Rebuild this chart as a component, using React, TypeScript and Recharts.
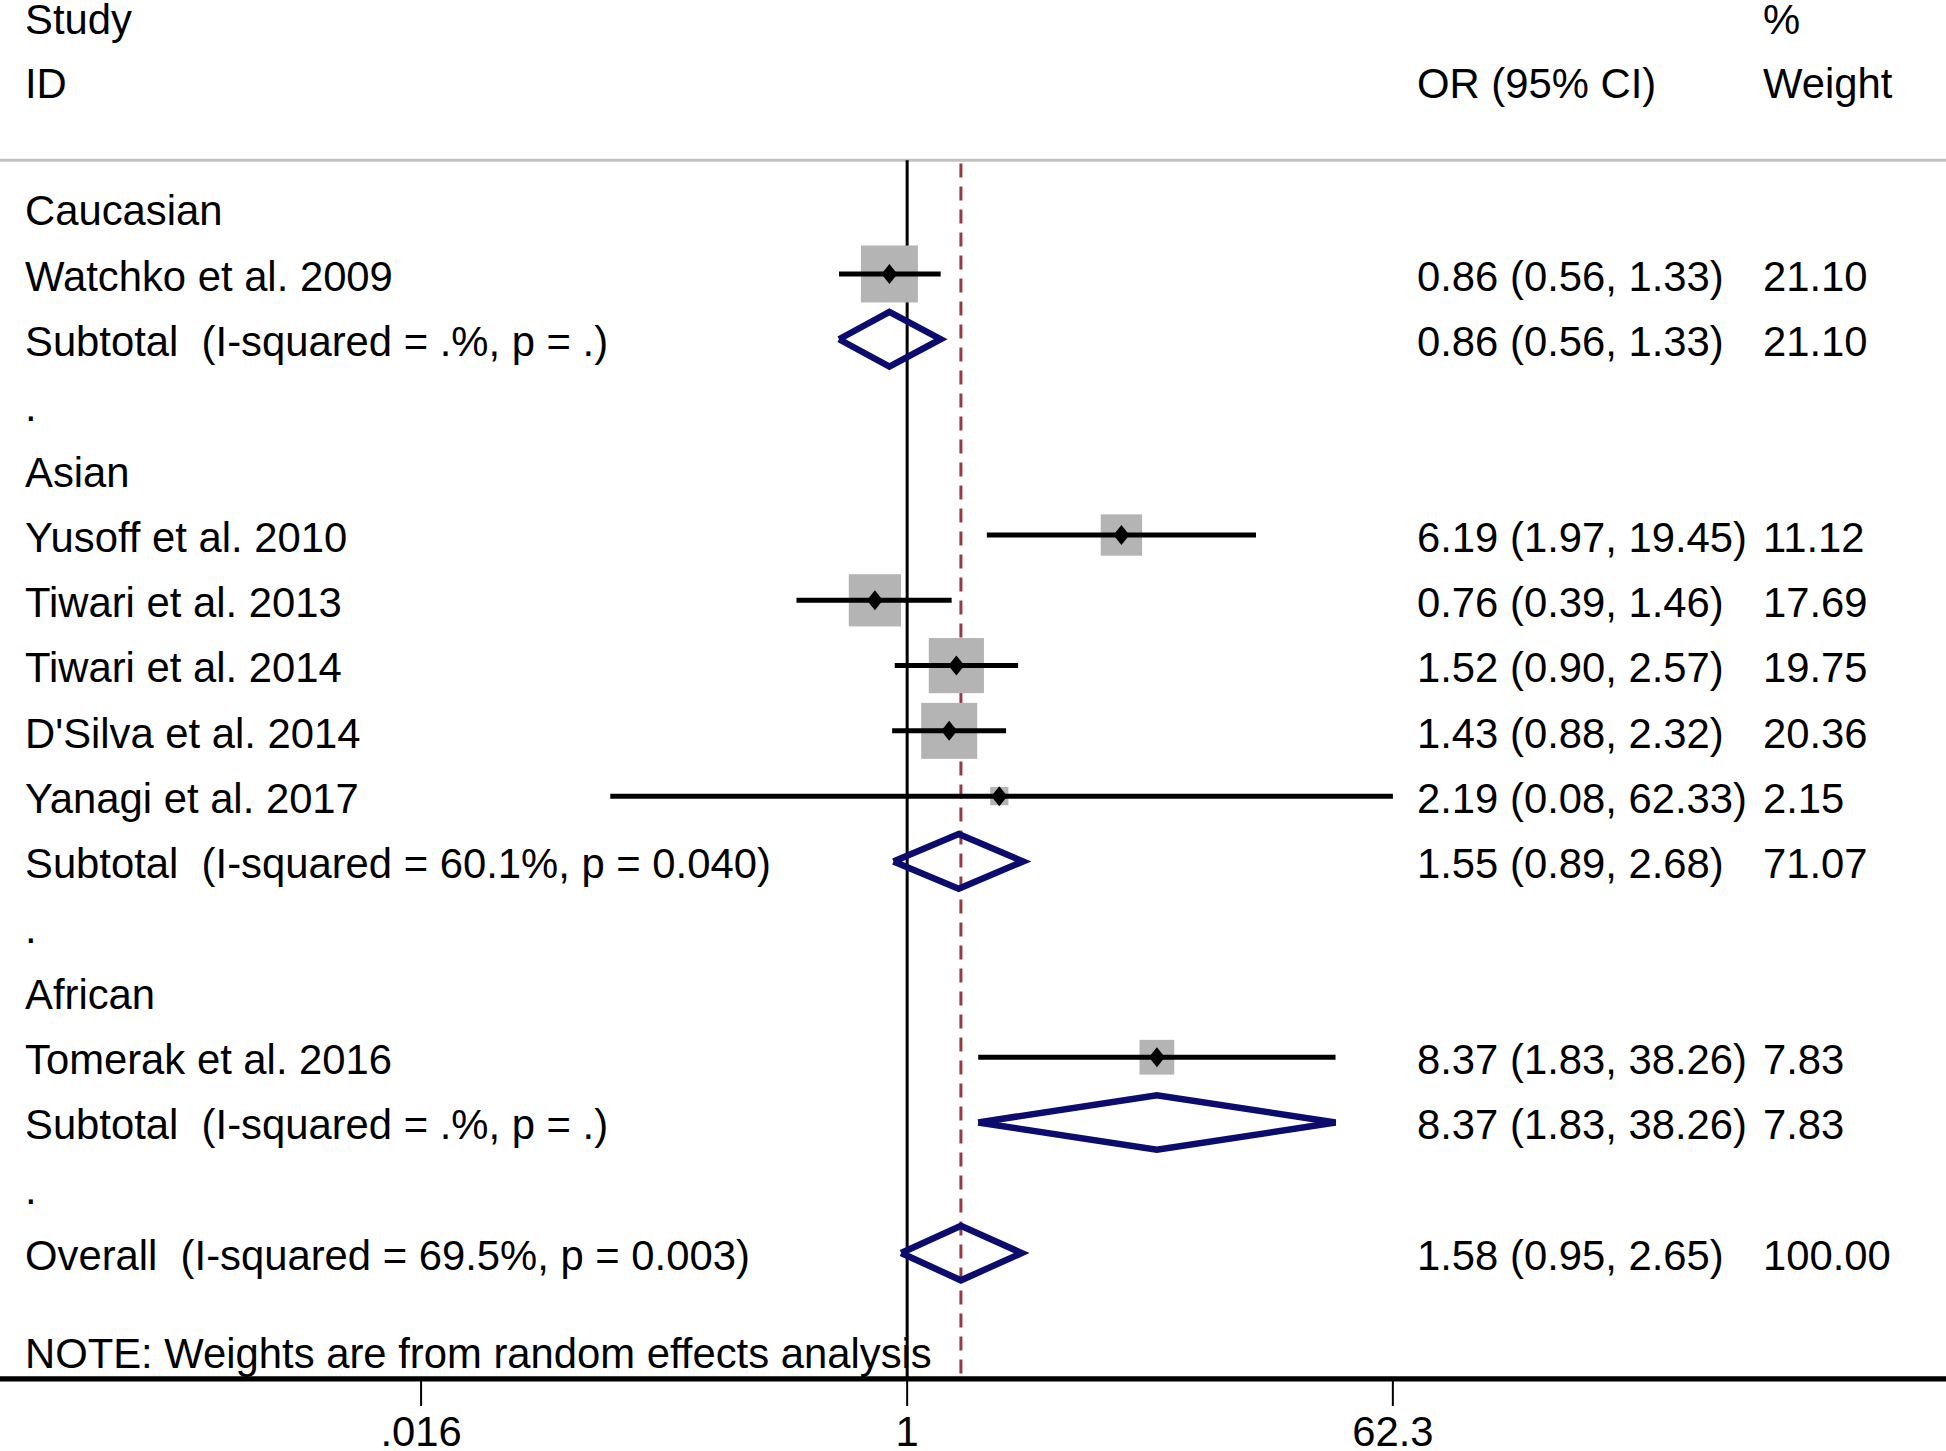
import React from "react";
import { ComposedChart, Scatter, XAxis, YAxis, ReferenceLine } from "recharts";

// individual studies
const studyNames = [
    "Watchko et al. 2009",
    "Yusoff et al. 2010",
    "Tiwari et al. 2013",
    "Tiwari et al. 2014",
    "D'Silva et al. 2014",
    "Yanagi et al. 2017",
    "Tomerak et al. 2016",
];
const studyOR = [0.86, 6.19, 0.76, 1.52, 1.43, 2.19, 8.37];
const studyLo = [0.56, 1.97, 0.39, 0.9, 0.88, 0.08, 1.83];
const studyHi = [1.33, 19.45, 1.46, 2.57, 2.32, 62.33, 38.26];
const studyWeight = [21.1, 11.12, 17.69, 19.75, 20.36, 2.15, 7.83];
const studyRows = [1, 5, 6, 7, 8, 9, 13];

// subtotals + overall
const poolNames = [
    "Subtotal  (I-squared = .%, p = .)",
    "Subtotal  (I-squared = 60.1%, p = 0.040)",
    "Subtotal  (I-squared = .%, p = .)",
    "Overall  (I-squared = 69.5%, p = 0.003)",
];
const poolOR = [0.86, 1.55, 8.37, 1.58];
const poolLo = [0.56, 0.89, 1.83, 0.95];
const poolHi = [1.33, 2.68, 38.26, 2.65];
const poolWeight = [21.1, 71.07, 7.83, 100.0];
const poolRows = [2, 10, 14, 16];

const groupNames = ["Caucasian", "Asian", "African"];
const groupRows = [0, 4, 12];
const blankRows = [3, 11, 15];

const xTicks = [0.016, 1, 62.3];
const xTickLabels = [".016", "1", "62.3"];

const noteText = "NOTE: Weights are from random effects analysis";

const FONT = '"Liberation Sans", Arial, Helvetica, sans-serif';
const FS = 41.8;
const W = 1946;
const H = 1451;
const X_MIN = 0.000445;
const X_MAX = 6890;
const Y_TOP = -3.1975;
const Y_AXIS = 17.93;
const RULE_ROW = -0.743;
const HALF_H = 0.418;

const fmt = (v: number) => v.toFixed(2);

type TextRow = { row: number; label?: string; ci?: string; wt?: string };

const textRows: TextRow[] = [
    { row: -2.93, label: "Study", wt: "%" },
    { row: -1.95, label: "ID", ci: "OR (95% CI)", wt: "Weight" },
    ...groupNames.map((g, i) => ({ row: groupRows[i], label: g })),
    ...blankRows.map((r) => ({ row: r, label: "." })),
    ...studyNames.map((n, i) => ({
        row: studyRows[i],
        label: n,
        ci: `${fmt(studyOR[i])} (${fmt(studyLo[i])}, ${fmt(studyHi[i])})`,
        wt: fmt(studyWeight[i]),
    })),
    ...poolNames.map((n, i) => ({
        row: poolRows[i],
        label: n,
        ci: `${fmt(poolOR[i])} (${fmt(poolLo[i])}, ${fmt(poolHi[i])})`,
        wt: fmt(poolWeight[i]),
    })),
    { row: 17.5, label: noteText },
];

// text rows are placed on the y scale; x is ignored by the shape (fixed columns)
const textData = textRows.map((r) => ({ x: 1, y: r.row, ...r }));

const studyData = studyNames.map((n, i) => ({
    x: studyOR[i],
    y: studyRows[i],
    w: studyWeight[i],
}));

const RowText = (p: any) => {
    const r = p.payload as TextRow;
    const common = {
        y: p.cy,
        dy: "0.4em",
        fontSize: FS,
        fontFamily: FONT,
        fill: "#000",
        style: { whiteSpace: "pre" as const },
    };
    return (
        <g>
            {r.label && <text x={25} {...common}>{r.label}</text>}
            {r.ci && <text x={1417} {...common}>{r.ci}</text>}
            {r.wt && <text x={1763} {...common}>{r.wt}</text>}
        </g>
    );
};

const WeightBox = (p: any) => {
    const s = 12.41 * Math.sqrt(p.payload.w);
    return <rect x={p.cx - s / 2} y={p.cy - s / 2} width={s} height={s} fill="#b4b4b4" />;
};

const Marker = (p: any) => (
    <polygon
        points={`${p.cx - 8},${p.cy} ${p.cx},${p.cy - 10} ${p.cx + 8},${p.cy} ${p.cx},${p.cy + 10}`}
        fill="#000"
    />
);

const Nothing = () => <g />;

export default function App() {
    return (
        <div style={{ position: "absolute", left: 0, top: 0, background: "#fff" }}>
            <ComposedChart width={W} height={H} margin={{ top: 0, right: 0, bottom: 0, left: 0 }}>
                <XAxis
                    dataKey="x"
                    type="number"
                    scale="log"
                    domain={[X_MIN, X_MAX]}
                    allowDataOverflow
                    ticks={xTicks}
                    interval={0}
                    tickFormatter={(v: number) => xTickLabels[xTicks.indexOf(v)] ?? String(v)}
                    height={72}
                    axisLine={{ stroke: "#000", strokeWidth: 5 }}
                    tickLine={{ stroke: "#000", strokeWidth: 2 }}
                    tickSize={27}
                    tickMargin={10}
                    tick={{ fontSize: FS, fill: "#000", fontFamily: FONT }}
                />
                <YAxis dataKey="y" type="number" reversed domain={[Y_TOP, Y_AXIS]} allowDataOverflow hide width={0} />
                <Scatter data={textData} shape={<RowText />} fill="#000" isAnimationActive={false} />
                <ReferenceLine y={RULE_ROW} stroke="#c2c2c2" strokeWidth={3} />
                <ReferenceLine
                    segment={[
                        { x: poolOR[3], y: RULE_ROW + 0.05 },
                        { x: poolOR[3], y: Y_AXIS },
                    ]}
                    stroke="#983a45"
                    strokeWidth={3}
                    strokeDasharray="14 9"
                />
                <Scatter data={studyData} shape={<WeightBox />} fill="#b4b4b4" isAnimationActive={false} />
                <ReferenceLine
                    segment={[
                        { x: 1, y: RULE_ROW },
                        { x: 1, y: Y_AXIS },
                    ]}
                    stroke="#000"
                    strokeWidth={3}
                />
                {/* axis baseline across the full width */}
                <Scatter
                    data={[
                        { x: X_MIN, y: Y_AXIS },
                        { x: X_MAX, y: Y_AXIS },
                    ]}
                    line={{ stroke: "#000", strokeWidth: 5 }}
                    stroke="#000"
                    strokeWidth={5}
                    fill="#000"
                    shape={<Nothing />}
                    isAnimationActive={false}
                />
                {studyNames.map((n, i) => (
                    <Scatter
                        key={`ci-${i}`}
                        data={[
                            { x: studyLo[i], y: studyRows[i] },
                            { x: studyHi[i], y: studyRows[i] },
                        ]}
                        line={{ stroke: "#000", strokeWidth: 5 }}
                        stroke="#000"
                        strokeWidth={5}
                        fill="#000"
                        shape={<Nothing />}
                        isAnimationActive={false}
                    />
                ))}
                <Scatter data={studyData} shape={<Marker />} fill="#000" isAnimationActive={false} />
                {poolNames.map((n, i) => (
                    <Scatter
                        key={`pool-${i}`}
                        data={[
                            { x: poolLo[i], y: poolRows[i] },
                            { x: poolOR[i], y: poolRows[i] - HALF_H },
                            { x: poolHi[i], y: poolRows[i] },
                            { x: poolOR[i], y: poolRows[i] + HALF_H },
                            { x: poolLo[i], y: poolRows[i] },
                        ]}
                        line={{ stroke: "#0c0c6e", strokeWidth: 6.5, strokeLinejoin: "miter" }}
                        stroke="#0c0c6e"
                        strokeWidth={6.5}
                        fill="#0c0c6e"
                        shape={<Nothing />}
                        isAnimationActive={false}
                    />
                ))}
            </ComposedChart>
        </div>
    );
}
